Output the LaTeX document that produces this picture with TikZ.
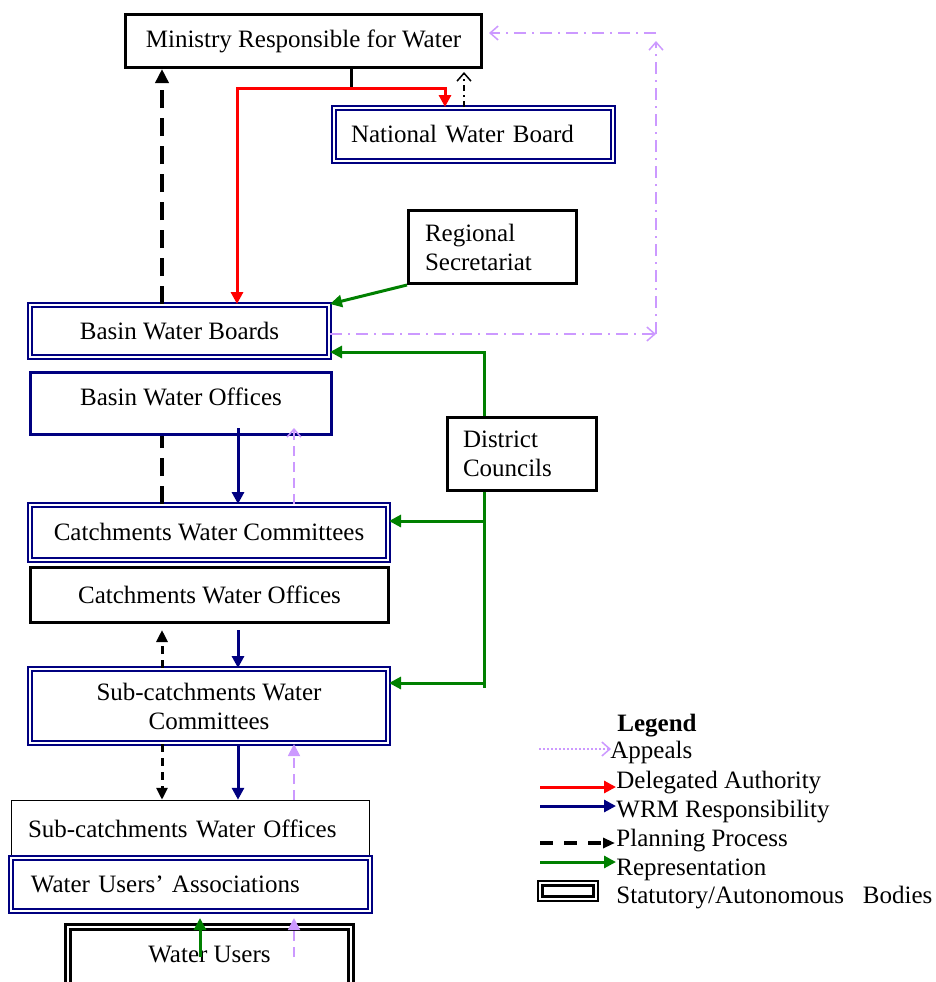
\documentclass[tikz,border=0pt]{standalone}
\usepackage{fontspec}
\setmainfont{Liberation Serif}
\usetikzlibrary{arrows.meta}
\definecolor{navyb}{RGB}{0,0,128}
\definecolor{lilac}{RGB}{204,153,255}
\definecolor{grn}{RGB}{0,128,0}
\begin{document}
\begin{tikzpicture}[x=0.5pt,y=-0.5pt,
  every node/.style={font=\fontsize{12.5pt}{14.5pt}\selectfont, inner sep=0pt},
  sbox/.style={draw, line width=1.5pt, fill=white, rectangle, align=center},
  dbox/.style={draw=navyb, line width=1pt, double=white, double distance=1pt, fill=white, rectangle, align=center},
  tri/.tip={Triangle[length=6pt,width=6pt]},
  chev/.tip={Straight Barb[length=4pt,width=7pt,line width=0.75pt]},
  auth/.style={red, line width=1.5pt},
  wrm/.style={navyb, line width=1.5pt, -tri},
  rep/.style={grn, line width=1.5pt, -tri},
  planthick/.style={black, line width=2pt, dash pattern=on 9pt off 5pt, -{Triangle[length=7pt,width=6.5pt]}},
  planthin/.style={black, line width=1.5pt, dash pattern=on 4pt off 3pt, -{Triangle[length=6pt,width=5.5pt]}},
  appdd/.style={lilac, line width=0.75pt, dash pattern=on 6pt off 3pt on 1pt off 3pt, -chev},
  appd/.style={lilac, line width=0.9pt, dash pattern=on 5pt off 3pt},
  legtext/.style={anchor=base west}
]
\useasboundingbox (0,0) rectangle (936,982);

% ---------- boxes ----------
\node[sbox, minimum width=178pt, minimum height=26.5pt] (min) at (303.5,41) {Ministry Responsible for Water};
\node[dbox, minimum width=139.5pt, minimum height=26.5pt, text width=122.5pt, inner xsep=8.5pt, align=left] (nwb) at (473.5,134.5) {National Water Board};
\node[sbox, minimum width=84pt, minimum height=36.5pt, text width=67.5pt, inner xsep=8.25pt, align=left] (reg) at (492.5,247) {Regional\\Secretariat};
\node[dbox, minimum width=149.5pt, minimum height=26pt] (bwb) at (179.5,331) {Basin Water Boards};
\node[sbox, draw=navyb, minimum width=150.5pt, minimum height=31pt, text height=8.8pt, text depth=7pt] (bwo) at (181,403.5) {Basin Water Offices};
\node[sbox, minimum width=74.5pt, minimum height=36.5pt, text width=59pt, inner xsep=7.75pt, align=left] (dc) at (522,454) {District\\Councils};
\node[dbox, minimum width=179pt, minimum height=27.5pt] (cwc) at (209,532.5) {Catchments Water Committees};
\node[sbox, minimum width=179pt, minimum height=27.5pt] (cwo) at (209.5,595) {Catchments Water Offices};
\node[dbox, minimum width=179pt, minimum height=37pt] (scwc) at (209,706) {Sub-catchments Water\\Committees};
\node[sbox, line width=0.75pt, minimum width=179pt, minimum height=28pt, text width=162.5pt, inner xsep=8.25pt, align=left] (sco) at (190.5,828.5) {Sub-catchments Water Offices};
\node[dbox, minimum width=179.5pt, minimum height=26.5pt, text width=159.5pt, inner xsep=10pt, align=left] (wua) at (190.5,884.5) {Water Users’ Associations};
\node[dbox, draw=black, line width=1.3pt, double distance=1.2pt, minimum width=141.5pt, minimum height=30pt, text height=8.8pt, text depth=3pt] (wu) at (209.5,957) {Water Users};

% ---------- helper coordinates ----------
\coordinate (xP) at (162,0);
\coordinate (xB) at (238,0);
\coordinate (xL) at (294,0);
\coordinate (xG) at (484,0);
\coordinate (xW) at (200,0);
\coordinate (xR1) at (237,0);
\coordinate (xR2) at (445,0);
\coordinate (xM) at (351,0);
\coordinate (xD) at (464,0);
\coordinate (rj) at (351,88);
\coordinate (lp1) at (656,334);
\coordinate (lp2) at (656,33);
\coordinate (lp3) at (656,41);
\coordinate (gy1) at (0,352);
\coordinate (gy2) at (0,521);
\coordinate (gy3) at (0,683);
\coordinate (gy4) at (0,688);

% ---------- delegated authority ----------
\draw[black, line width=1.5pt] (xM |- min.south) -- (rj);
\draw[auth, tri-tri] (xR1 |- bwb.north) |- (rj) -| (xR2 |- nwb.north);

% ---------- planning process ----------
\draw[planthick] (xP |- bwb.north) -- (xP |- min.south);
\draw[black, line width=2pt, dash pattern=on 9pt off 5pt] (xP |- cwc.north) -- (xP |- bwo.south);
\draw[planthin, shorten >=3pt] (xP |- scwc.north) -- (xP |- cwo.south);
\draw[planthin] (xP |- scwc.south) -- (xP |- sco.north);
\draw[black, line width=0.75pt, dash pattern=on 3pt off 2pt on 1pt off 2pt, -chev, shorten >=1.5pt] (xD |- nwb.north) -- (xD |- min.south);

% ---------- WRM responsibility ----------
\draw[wrm, shorten <=-4pt] (xB |- bwo.south) -- (xB |- cwc.north);
\draw[wrm, shorten <=3pt] (xB |- cwo.south) -- (xB |- scwc.north);
\draw[wrm] (xB |- scwc.south) -- (xB |- sco.north);

% ---------- appeals ----------
\draw[appdd] (bwb.east |- lp1) -- (lp1);
\draw[appdd] (lp1) -- (lp3);
\draw[appdd, shorten >=3pt] (lp2) -- (min.east |- lp2);
\draw[appd, -chev, shorten >=-4pt] (xL |- cwc.north) -- (xL |- bwo.south);
\draw[appd, -tri] (xL |- sco.north) -- (xL |- scwc.south);
\draw[appd, -tri, shorten >=3pt] (xL |- wu.center) -- (xL |- wua.south);

% ---------- representation ----------
\draw[rep] (reg.south west) -- (bwb.north east);
\draw[rep] (xG |- dc.north) |- (bwb.east |- gy1);
\draw[grn, line width=1.5pt] (xG |- dc.south) -- (xG |- gy4);
\draw[rep] (xG |- gy2) -- (cwc.east |- gy2);
\draw[rep] (xG |- gy3) -- (scwc.east |- gy3);
\draw[rep, shorten >=3pt] (xW |- wu.center) -- (xW |- wua.south);

% ---------- legend ----------
\node[legtext, font=\fontsize{12.5pt}{14.5pt}\selectfont\bfseries] (lg) at (617,731) {Legend};
\coordinate (la1) at (539,749); \coordinate (la2) at (611,749);
\coordinate (lb1) at (540,787); \coordinate (lb2) at (616,787);
\coordinate (lc1) at (540,806); \coordinate (lc2) at (616,806);
\coordinate (ld1) at (540,843); \coordinate (ld2) at (615,843);
\coordinate (le1) at (540,862); \coordinate (le2) at (616,862);
\draw[lilac, line width=0.75pt, dash pattern=on 1pt off 1pt, -chev] (la1) -- (la2);
\draw[auth, -tri] (lb1) -- (lb2);
\draw[wrm] (lc1) -- (lc2);
\draw[black, line width=1.6pt, dash pattern=on 6.5pt off 5.5pt, -{Triangle[length=6pt,width=5pt]}] (ld1) -- (ld2);
\draw[rep] (le1) -- (le2);
\node[draw=black, line width=1.1pt, double=white, double distance=1.1pt, minimum width=27.7pt, minimum height=7.7pt] (lbox) at (568,891) {};
\node[legtext] (tA) at (610,758) {Appeals};
\node[legtext] (tB) at (616,788) {Delegated Authority};
\node[legtext] (tC) at (616,817) {WRM Responsibility};
\node[legtext] (tD) at (616,846) {Planning Process};
\node[legtext] (tE) at (616,875) {Representation};
\node[legtext] (tF) at (616,903) {Statutory/Autonomous\ \ \ Bodies};
\end{tikzpicture}
\end{document}
